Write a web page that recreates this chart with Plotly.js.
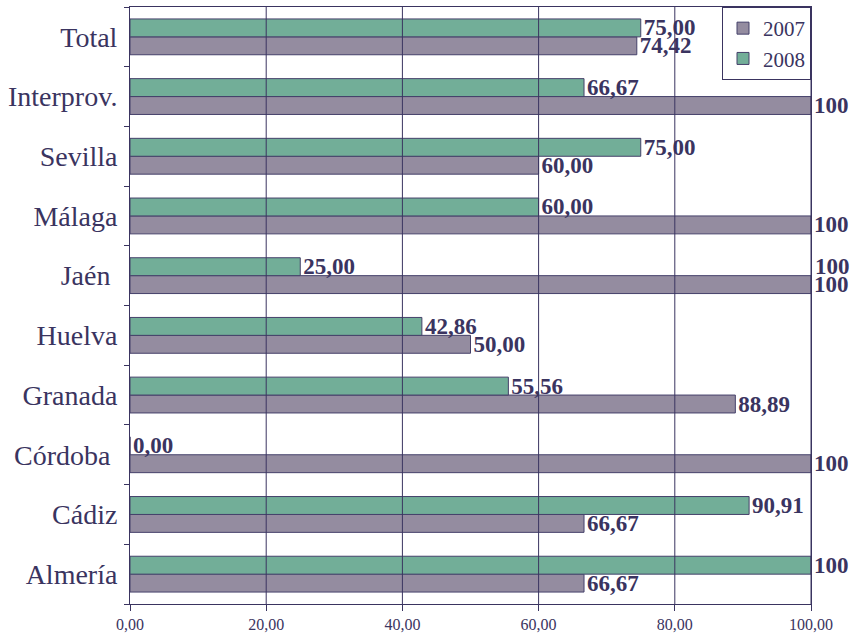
<!DOCTYPE html>
<html>
<head>
<meta charset="utf-8">
<script src="https://cdn.plot.ly/plotly-3.0.1.min.js"></script>
<style>html,body{margin:0;padding:0;background:#fff;}#chart{width:855px;height:638px;}</style>
</head>
<body>
<div id="chart"></div>
<script>
const categories = ["Almería", "Cádiz", "Córdoba\u00a0", "Granada", "Huelva", "Jaén\u00a0", "Málaga", "Sevilla", "Interprov.", "Total"];
const values2007 = [66.67, 66.67, 100, 88.89, 50.00, 100, 100, 60.00, 100, 74.42];
const values2008 = [100, 90.91, 0.00, 55.56, 42.86, 25.00, 60.00, 75.00, 66.67, 75.00];
const xTicks = [0, 20, 40, 60, 80, 100];
const seriesNames = ["2007", "2008"];

const ink = "#3a3460";
const fontFam = "'Liberation Serif', 'Times New Roman', serif";
const fmt = v => v === 100 ? "100" : v.toFixed(2).replace(".", ",");

const mk = (name, vals, color) => ({
  type: "bar", orientation: "h", name: name,
  x: vals, y: categories,
  marker: {color: color, line: {color: "#45406a", width: 1}},
  text: vals.map(fmt), textposition: "outside", constraintext: "none", cliponaxis: false,
  textfont: {family: fontFam, size: 23, color: ink, weight: "bold"},
  hoverinfo: "x+y"
});

const data = [mk(seriesNames[0], values2007, "#948ca0"), mk(seriesNames[1], values2008, "#72ae98")];

const shapes = xTicks.slice(1).map(t => ({
  type: "line", xref: "x", yref: "paper", x0: t, x1: t, y0: 0, y1: 1,
  line: {color: ink, width: 1}, layer: "above"
}));

const layout = {
  width: 855, height: 638,
  margin: {l: 130, r: 44, t: 7, b: 34},
  paper_bgcolor: "#fff", plot_bgcolor: "#fff",
  barmode: "group", bargap: 0.4, bargroupgap: 0,
  separators: ",.",
  font: {family: fontFam, color: ink},
  xaxis: {
    range: [0, 100], tickvals: xTicks, tickformat: ".2f",
    showgrid: false, zeroline: false,
    showline: true, linecolor: ink, linewidth: 1, mirror: true,
    ticks: "outside", ticklen: 6, tickcolor: ink,
    tickfont: {family: fontFam, size: 16, color: ink}
  },
  yaxis: {
    type: "category", categoryorder: "array", categoryarray: categories,
    showgrid: false, zeroline: false,
    showline: true, linecolor: ink, linewidth: 1, mirror: true,
    ticks: "outside", ticklen: 5, tickcolor: ink, tickson: "boundaries",
    ticklabelstandoff: 6,
    tickfont: {family: fontFam, size: 28, color: ink}
  },
  legend: {
    x: 1, y: 1, xanchor: "right", yanchor: "top", traceorder: "normal",
    bgcolor: "#fff", bordercolor: ink, borderwidth: 1,
    font: {family: fontFam, size: 21, color: ink}
  },
  shapes: shapes,
  annotations: [{
    xref: "x", yref: "y", x: 100, y: 5.15, text: "100", showarrow: false,
    xanchor: "left", xshift: 2,
    font: {family: fontFam, size: 23, color: ink, weight: "bold"}
  }]
};

Plotly.newPlot("chart", data, layout, {displayModeBar: false, staticPlot: true});
</script>
</body>
</html>
